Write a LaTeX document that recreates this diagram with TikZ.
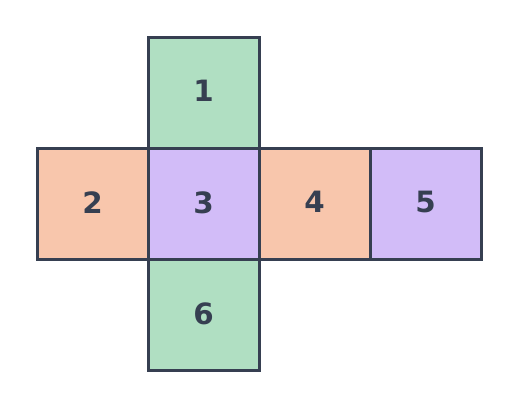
\documentclass[tikz,border=0pt]{standalone}
\usepackage{fontspec}
\setmainfont{DejaVu Sans}
\definecolor{edge}{HTML}{363F51}
\definecolor{fgreen}{HTML}{B0DFC2}
\definecolor{forange}{HTML}{F8C6AC}
\definecolor{fpurple}{HTML}{D2BCF8}
\newcommand{\facelabel}[1]{\raisebox{2pt}{#1}}
\begin{document}
\begin{tikzpicture}[x=0.75pt,y=-0.75pt,
  face/.style={draw=edge,line width=2.25pt,minimum size=83.25pt,inner sep=0pt,
    text=edge,font=\fontsize{22}{26}\selectfont\bfseries},
  fg/.style={face,fill=fgreen},
  fo/.style={face,fill=forange},
  fp/.style={face,fill=fpurple}]
\useasboundingbox (0,0) rectangle (518,407);
\node[fg] (n1) at (203.5,92.5) {\facelabel{1}};
\node[fo] (n2) at (92.5,203.5) {\facelabel{2}};
\node[fp] (n3) at (203.5,203.5) {\facelabel{3}};
\node[fo] (n4) at (314.5,203.5) {\facelabel{4}};
\node[fp] (n5) at (425.5,203.5) {\facelabel{5}};
\node[fg] (n6) at (203.5,314.5) {\facelabel{6}};
\end{tikzpicture}
\end{document}
